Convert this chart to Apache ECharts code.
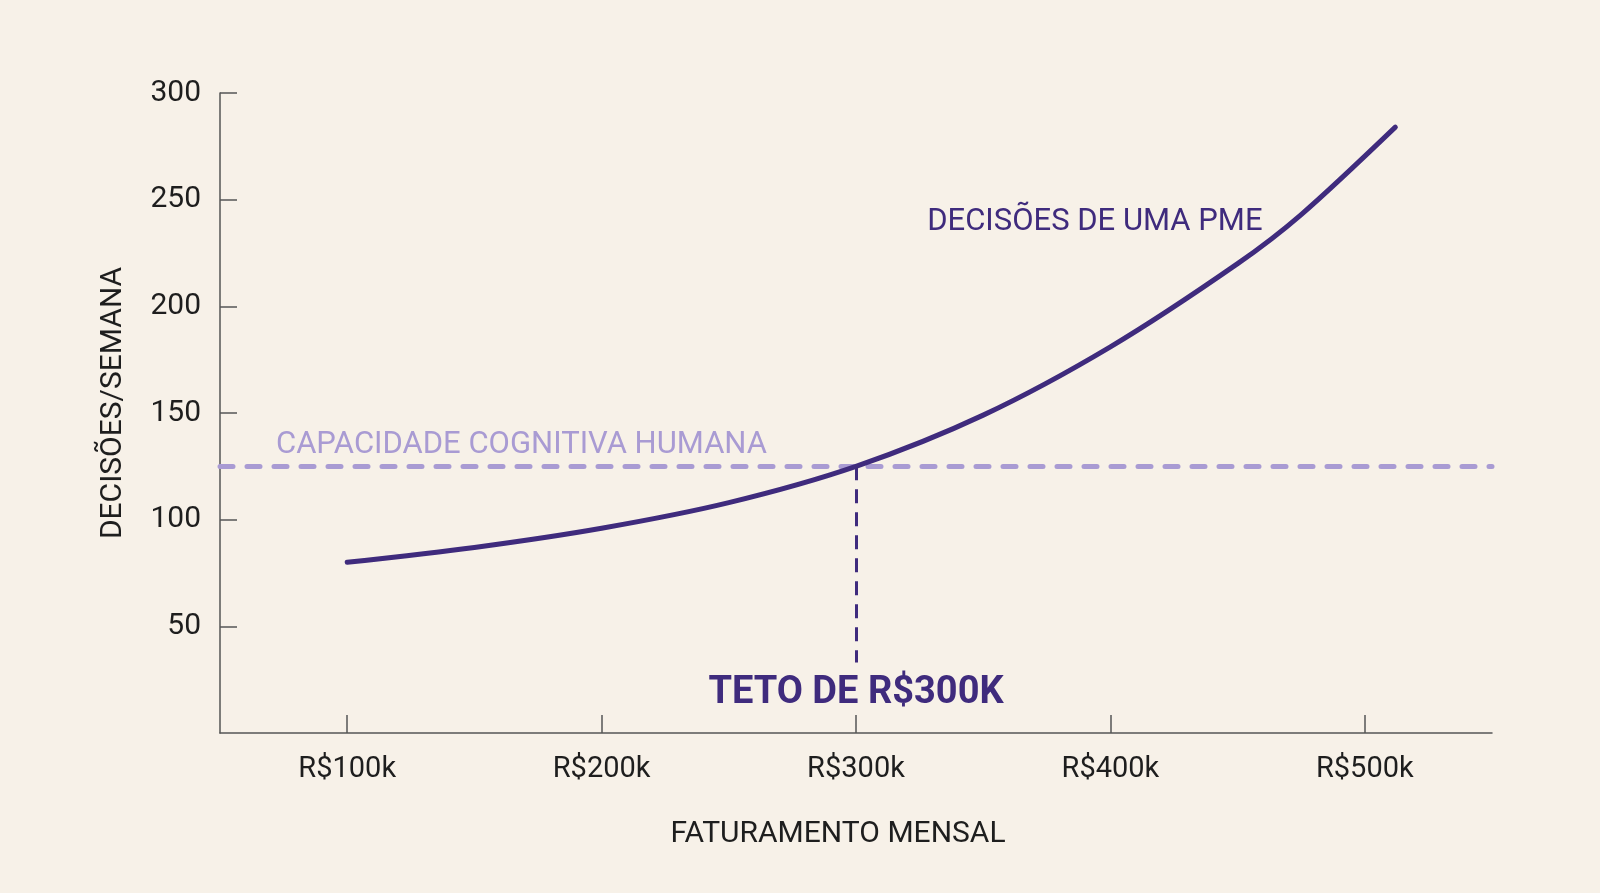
<!DOCTYPE html>
<html>
<head>
<meta charset="utf-8">
<script src="https://cdn.jsdelivr.net/npm/echarts@6/dist/echarts.min.js"></script>
<style>
  html, body { margin: 0; padding: 0; background: #f7f1e8; }
  #chart { width: 1600px; height: 893px; }
</style>
</head>
<body>
<div id="chart"></div>
<script>
// Faturamento mensal (R$ mil) and decisões por semana
const revenueK = [100, 150, 200, 250, 300, 350, 400, 450, 475, 512];
const decisions = [80, 87, 96, 108, 125, 149, 181, 220, 243, 284];
const capacity = 125;          // capacidade cognitiva humana
const ceilingK = 300;          // teto de faturamento
const ceilingLineBottom = 33;  // where the vertical dashed guide ends
const xTicks = [100, 200, 300, 400, 500];
const yTicks = [50, 100, 150, 200, 250, 300];

const labelCurve = 'DECISÕES DE UMA PME';
const labelCapacity = 'CAPACIDADE COGNITIVA HUMANA';
const labelCeiling = 'TETO DE R$300K';
const curveLabelPos = [328, 239.5];
const capacityLabelPos = [72, 135];
const ceilingLabelPos = [300, 18.6];

const DARK = '#3f2b7d';
const LIGHT = '#a99bd3';
const FONT = 'Roboto, "Noto Sans", sans-serif';

const chart = echarts.init(document.getElementById('chart'), null, { renderer: 'canvas' });

chart.setOption({
  backgroundColor: '#f7f1e8',
  animation: false,
  textStyle: { fontFamily: FONT },
  grid: { left: 220, right: 108, top: 93, bottom: 160 },
  xAxis: {
    type: 'value',
    min: 50,
    max: 550,
    name: 'FATURAMENTO MENSAL',
    nameLocation: 'middle',
    nameGap: 86,
    nameTextStyle: { fontSize: 30, color: '#1e1e1e', fontFamily: FONT, padding: [0, 36, 0, 0] },
    axisLine: { show: true, onZero: false, lineStyle: { color: '#555', width: 1.5 } },
    axisTick: { show: true, inside: true, length: 18, customValues: xTicks, lineStyle: { color: '#555', width: 1.5 } },
    axisLabel: {
      customValues: xTicks,
      formatter: v => 'R$' + v + 'k',
      fontSize: 29, color: '#1e1e1e', margin: 22, fontFamily: FONT
    },
    splitLine: { show: false }
  },
  yAxis: {
    type: 'value',
    min: 0,
    max: 300,
    interval: 50,
    name: 'DECISÕES/SEMANA',
    nameLocation: 'middle',
    nameRotate: 90,
    nameGap: 92,
    nameTextStyle: { fontSize: 30, color: '#1e1e1e', fontFamily: FONT, padding: [0, 0, 0, 20] },
    axisLine: { show: true, lineStyle: { color: '#555', width: 1.5 } },
    axisTick: { show: true, inside: true, length: 17, customValues: yTicks, lineStyle: { color: '#555', width: 1.5 } },
    axisLabel: {
      customValues: yTicks,
      fontSize: 30, color: '#1e1e1e', margin: 19, fontFamily: FONT, padding: [6, 0, 0, 0]
    },
    splitLine: { show: false }
  },
  series: [
    {
      type: 'line',
      name: 'Capacidade',
      data: [],
      silent: true,
      markLine: {
        silent: true,
        symbol: 'none',
        label: { show: false },
        lineStyle: { color: LIGHT, width: 5, type: [13, 14], cap: 'round' },
        data: [{ yAxis: capacity }]
      }
    },
    {
      type: 'line',
      name: 'Decisões',
      data: revenueK.map((x, i) => [x, decisions[i]]),
      smooth: 0.3,
      showSymbol: false,
      lineStyle: { color: DARK, width: 5, cap: 'round' },
      itemStyle: { color: DARK },
      z: 5,
      markLine: {
        silent: true,
        symbol: 'none',
        label: { show: false },
        lineStyle: { color: DARK, width: 3, type: [14, 9] },
        data: [[{ coord: [ceilingK, capacity] }, { coord: [ceilingK, ceilingLineBottom] }]]
      },
      markPoint: {
        silent: true,
        symbol: 'circle',
        symbolSize: 1,
        itemStyle: { color: 'rgba(0,0,0,0)' },
        data: [
          {
            coord: curveLabelPos,
            label: { show: true, formatter: labelCurve, position: 'inside', align: 'left', verticalAlign: 'middle',
                     fontSize: 31, color: DARK, fontFamily: FONT }
          },
          {
            coord: capacityLabelPos,
            label: { show: true, formatter: labelCapacity, position: 'inside', align: 'left', verticalAlign: 'middle',
                     fontSize: 31, color: LIGHT, fontFamily: FONT }
          },
          {
            coord: ceilingLabelPos,
            label: { show: true, formatter: labelCeiling, position: 'inside', align: 'center', verticalAlign: 'middle',
                     fontSize: 38, fontWeight: 'bold', color: DARK, fontFamily: FONT }
          }
        ]
      }
    }
  ]
});
</script>
</body>
</html>
